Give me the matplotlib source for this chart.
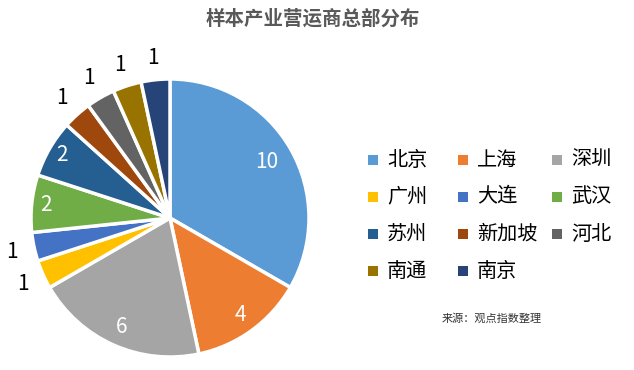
import matplotlib
matplotlib.use("Agg")
import matplotlib.pyplot as plt
import numpy as np
from matplotlib.patches import Rectangle

plt.rcParams['font.family'] = ['Noto Sans CJK SC', 'DejaVu Sans']

categories = ['北京', '上海', '深圳', '广州', '大连', '武汉', '苏州', '新加坡', '河北', '南通', '南京']
values = [10, 4, 6, 1, 1, 2, 2, 1, 1, 1, 1]
colors = ['#5B9BD5', '#ED7D31', '#A5A5A5', '#FFC000', '#4472C4', '#70AD47',
          '#255E91', '#9E480E', '#636363', '#997300', '#264478']
title = '样本产业营运商总部分布'
source = '来源：观点指数整理'

W, H = 634, 370
fig = plt.figure(figsize=(W/100, H/100), dpi=100)
cx, cy, r = 170, 218, 139
ax = fig.add_axes([(cx - r)/W, 1 - (cy + r)/H, 2*r/W, 2*r/H])
wedges, _ = ax.pie(values, colors=colors, startangle=90, counterclock=False,
                   radius=1.0, wedgeprops=dict(edgecolor='white', linewidth=2.5))
ax.set_xlim(-1, 1)
ax.set_ylim(-1, 1)
ax.set_aspect('auto')

for w, v in zip(wedges, values):
    ang = np.deg2rad((w.theta1 + w.theta2) / 2)
    if v >= 8:
        d, col = 0.8, 'white'
    elif v >= 4:
        d, col = 0.86, 'white'
    elif v >= 2:
        d, col = 0.9, 'white'
    else:
        d, col = 1.16, 'black'
    ax.text(d*np.cos(ang), d*np.sin(ang), str(v), ha='center', va='center',
            fontsize=15, color=col, clip_on=False)

fig.text(313/W, 1 - 19/H, title, ha='center', va='center', fontsize=14,
         fontweight='bold', color='#595959')

# legend
col_x = [373, 463, 557]
row_y = [160, 197, 234, 271]
for i, (name, c) in enumerate(zip(categories, colors)):
    row, col = divmod(i, 3)
    x = col_x[col]
    y = row_y[row]
    fig.patches.append(Rectangle(((x - 5)/W, 1 - (y + 5)/H), 10/W, 10/H,
                                 transform=fig.transFigure, facecolor=c, edgecolor='none'))
    fig.text((x + 14)/W, 1 - y/H, name, ha='left', va='center', fontsize=14.5, color='black')

fig.text(492/W, 1 - 318/H, source, ha='center', va='center', fontsize=8, color='#333333')

fig.savefig('out.png', dpi=100)
